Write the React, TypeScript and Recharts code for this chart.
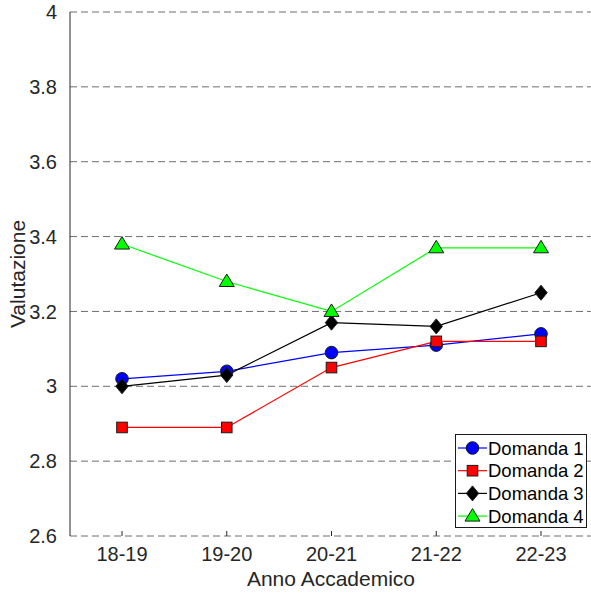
import React from 'react';
import { LineChart, Line, XAxis, YAxis, CartesianGrid } from 'recharts';

// academic years on the x axis
const years = ['18-19', '19-20', '20-21', '21-22', '22-23'];

// mean score for each question
const domanda1 = [3.02, 3.04, 3.09, 3.11, 3.14];
const domanda2 = [2.89, 2.89, 3.05, 3.12, 3.12];
const domanda3 = [3.0, 3.03, 3.17, 3.16, 3.25];
const domanda4 = [3.38, 3.28, 3.2, 3.37, 3.37];

const yTicks = [2.6, 2.8, 3, 3.2, 3.4, 3.6, 3.8, 4];

type Shape = 'circle' | 'square' | 'diamond' | 'triangle';

const series: { key: string; name: string; color: string; shape: Shape; values: number[] }[] = [
  { key: 'd1', name: 'Domanda 1', color: '#0000ff', shape: 'circle', values: domanda1 },
  { key: 'd2', name: 'Domanda 2', color: '#ff0000', shape: 'square', values: domanda2 },
  { key: 'd3', name: 'Domanda 3', color: '#000000', shape: 'diamond', values: domanda3 },
  { key: 'd4', name: 'Domanda 4', color: '#00ff00', shape: 'triangle', values: domanda4 },
];

const data = years.map((year, i) => {
  const row: Record<string, string | number> = { year };
  series.forEach((s) => {
    row[s.key] = s.values[i];
  });
  return row;
});

const FONT = '"Liberation Sans", Arial, Helvetica, sans-serif';
const TEXT = '#262626';
const EDGE = '#1a1a1a';

function Marker({ shape, cx, cy, color }: { shape: Shape; cx: number; cy: number; color: string }) {
  if (shape === 'circle') {
    return <circle cx={cx} cy={cy} r={6.3} fill={color} stroke={EDGE} strokeWidth={1} />;
  }
  if (shape === 'square') {
    return <rect x={cx - 5.3} y={cy - 5.3} width={10.6} height={10.6} fill={color} stroke={EDGE} strokeWidth={1} />;
  }
  if (shape === 'diamond') {
    return (
      <polygon
        points={`${cx},${cy - 7.5} ${cx + 6.2},${cy} ${cx},${cy + 7.5} ${cx - 6.2},${cy}`}
        fill={color}
        stroke={EDGE}
        strokeWidth={1}
      />
    );
  }
  return (
    <polygon
      points={`${cx},${cy - 7.5} ${cx + 7.5},${cy + 5} ${cx - 7.5},${cy + 5}`}
      fill={color}
      stroke={EDGE}
      strokeWidth={1}
    />
  );
}

const BottomTick = (props: any) => {
  const { x, y, payload } = props;
  return (
    <g>
      <line x1={x} y1={y} x2={x} y2={y - 5} stroke={TEXT} strokeWidth={1} />
      <text x={x} y={y + 25} textAnchor="middle" fill={TEXT} fontSize={20} fontFamily={FONT}>
        {payload.value}
      </text>
    </g>
  );
};

function LegendBox() {
  return (
    <svg
      width={132}
      height={94}
      style={{ position: 'absolute', left: 455, top: 434 }}
    >
      <rect x={0.5} y={0.5} width={131} height={93} fill="#ffffff" stroke={EDGE} strokeWidth={1} />
      {series.map((s, i) => {
        const cy = 14 + i * 22.7;
        return (
          <g key={s.key}>
            <line x1={3} x2={32} y1={cy} y2={cy} stroke={s.color} strokeWidth={1.2} />
            <Marker shape={s.shape} cx={17.5} cy={cy} color={s.color} />
            <text x={33} y={cy + 6.5} fontSize={18.5} fill="#000" fontFamily={FONT}>
              {s.name}
            </text>
          </g>
        );
      })}
    </svg>
  );
}

export default function App() {
  return (
    <div
      style={{
        position: 'absolute',
        left: 0,
        top: 0,
        width: 591,
        height: 597,
        overflow: 'hidden',
        background: '#ffffff',
        fontFamily: FONT,
      }}
    >
      <LineChart width={600} height={597} data={data} margin={{ top: 0, right: 7, bottom: 0, left: 0 }}>
        <CartesianGrid vertical={false} stroke="#6e6e6e" strokeDasharray="7 4" />
        <XAxis
          dataKey="year"
          height={61}
          padding={{ left: 52, right: 52 }}
          axisLine={false}
          tickLine={false}
          tickSize={0}
          tickMargin={0}
          tick={<BottomTick />}
          interval={0}
          label={{
            content: () => (
              <text x={331} y={586} textAnchor="middle" fill={TEXT} fontSize={21} fontFamily={FONT}>
                Anno Accademico
              </text>
            ),
          }}
        />
        <XAxis
          xAxisId="top"
          dataKey="year"
          orientation="top"
          height={12}
          padding={{ left: 52, right: 52 }}
          axisLine={false}
          tick={false}
          tickSize={-5}
          tickLine={{ stroke: TEXT }}
          interval={0}
        />
        <YAxis
          width={70}
          domain={[2.6, 4]}
          ticks={yTicks}
          interval={0}
          tickLine={false}
          tickMargin={7}
          axisLine={{ stroke: TEXT }}
          tick={{ fill: TEXT, fontSize: 20, fontFamily: FONT }}
          tickFormatter={(v: number) => String(Math.round(v * 10) / 10)}
          label={{
            content: () => (
              <text
                x={25}
                y={274}
                transform="rotate(-90 25 274)"
                textAnchor="middle"
                fill={TEXT}
                fontSize={21}
                fontFamily={FONT}
              >
                Valutazione
              </text>
            ),
          }}
        />
        {series.map((s) => (
          <Line
            key={s.key}
            dataKey={s.key}
            name={s.name}
            type="linear"
            stroke={s.color}
            strokeWidth={1.2}
            isAnimationActive={false}
            activeDot={false}
            dot={(p: any) => (
              <Marker key={`${s.key}-${p.index}`} shape={s.shape} cx={p.cx} cy={p.cy} color={s.color} />
            )}
          />
        ))}
      </LineChart>
      <LegendBox />
    </div>
  );
}
